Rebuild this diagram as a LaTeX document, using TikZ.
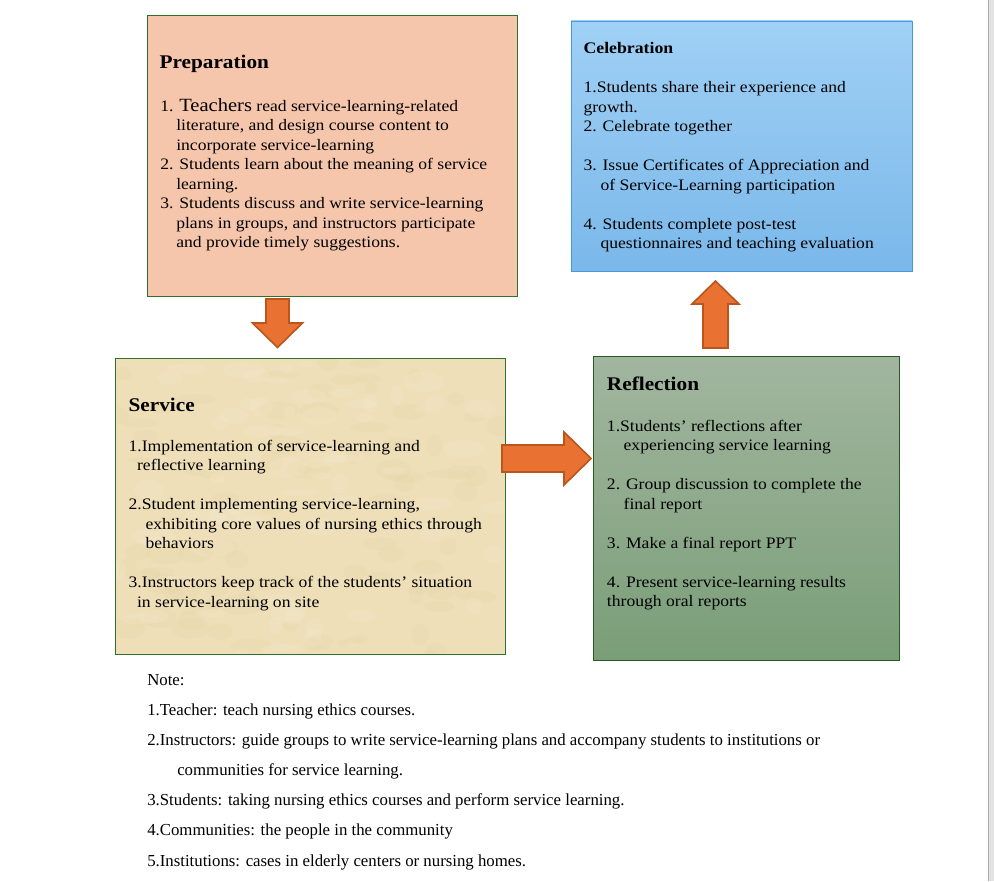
\documentclass[tikz,border=0pt]{standalone}
\usepackage{fontspec}
\setmainfont{Liberation Serif}
\newfontfamily\boxfont[FakeStretch=1.1]{Liberation Serif}
\newfontfamily\notefont{Liberation Serif}
\definecolor{prepfill}{RGB}{246,198,172}
\definecolor{boxgreen}{RGB}{46,112,46}
\definecolor{celtop}{RGB}{160,208,245}
\definecolor{celbot}{RGB}{122,184,234}
\definecolor{celborder}{RGB}{72,152,218}
\definecolor{serfill}{RGB}{238,223,184}
\definecolor{serdark}{RGB}{214,192,140}
\definecolor{serlight}{RGB}{248,238,212}
\definecolor{reftop}{RGB}{162,182,159}
\definecolor{refbot}{RGB}{122,158,120}
\definecolor{refborder}{RGB}{40,90,40}
\definecolor{arrfill}{RGB}{233,113,50}
\definecolor{arrdraw}{RGB}{184,86,30}
\definecolor{scrollgray}{RGB}{227,227,227}
\definecolor{scrollline}{RGB}{170,170,170}
\newcommand\fl{\rule{0pt}{10pt}}
\begin{document}
\begin{tikzpicture}[x=0.75pt,y=-0.75pt,
  box/.style={rectangle, inner sep=0pt, line width=0.65pt},
  blockarrow/.style={fill=arrfill, draw=arrdraw, line width=1.2pt, line join=miter},
  txt/.style={inner sep=0pt, anchor=north west, align=left,
    font=\boxfont\fontsize{12}{14.625}\selectfont},
  ttl/.style={inner sep=0pt, anchor=base west,
    font=\boxfont\bfseries\fontsize{14.5}{16}\selectfont},
  notetxt/.style={inner sep=0pt, anchor=north west, align=left,
    font=\notefont\fontsize{12.6}{22.6}\selectfont}]
\useasboundingbox (0,0) rectangle (994,881);
\fill[white] (0,0) rectangle (994,881);
\fill[scrollgray] (988,0) rectangle (994,881);
\draw[scrollline, line width=0.75pt] (988.5,0) -- (988.5,881);

% boxes
\node[box, draw=boxgreen, fill=prepfill, minimum width=277.5pt, minimum height=210.75pt] (prep) at (332,155.5) {};
\node[box, draw=celborder, top color=celtop, bottom color=celbot, minimum width=255.75pt, minimum height=187.5pt] (cel) at (741.5,146) {};
\node[box, fill=serfill, minimum width=291.75pt, minimum height=221.25pt] (ser) at (310.5,506.5) {};
\begin{scope}
  \clip (116,359) rectangle (505,654);
  \pgfmathsetseed{7}
  \foreach \i in {1,...,90}{
    \pgfmathsetmacro\rx{116+389*rnd}
    \pgfmathsetmacro\ry{359+295*rnd}
    \pgfmathsetmacro\ra{6+16*rnd}
    \pgfmathsetmacro\rb{3+8*rnd}
    \fill[serdark, opacity=0.07] (\rx,\ry) ellipse ({\ra*0.75pt} and {\rb*0.75pt});
  }
  \foreach \i in {1,...,70}{
    \pgfmathsetmacro\rx{116+389*rnd}
    \pgfmathsetmacro\ry{359+295*rnd}
    \pgfmathsetmacro\ra{6+16*rnd}
    \pgfmathsetmacro\rb{3+8*rnd}
    \fill[serlight, opacity=0.18] (\rx,\ry) ellipse ({\ra*0.75pt} and {\rb*0.75pt});
  }
\end{scope}
\draw[boxgreen, line width=0.65pt] (ser.south west) rectangle (ser.north east);
\node[box, draw=refborder, top color=reftop, bottom color=refbot, minimum width=229.5pt, minimum height=228pt] (ref) at (746,508) {};

% block arrows
\draw[blockarrow] (266,299) -- (289,299) -- (289,323) -- (302.5,323) -- (277.5,347.5) -- (252.5,323) -- (266,323) -- cycle;
\draw[blockarrow] (502,445) -- (564,445) -- (564,432) -- (591,458.5) -- (564,485) -- (564,472) -- (502,472) -- cycle;
\draw[blockarrow] (703,348) -- (703,304) -- (692,304) -- (715.5,281) -- (739,304) -- (728,304) -- (728,348) -- cycle;

% titles
\node[ttl] (prepttl) at (159.3,68.3) {Preparation};
\node[ttl, font=\boxfont\bfseries\fontsize{12.1}{14}\selectfont] (celttl) at (583.3,53.3) {Celebration};
\node[ttl] (serttl) at (128.3,411) {Service};
\node[ttl] (refttl) at (606.7,390.7) {Reflection};

% texts
\node[txt] (preptxt) at (160,97.4) {\fl 1. {\fontsize{14}{14.625}\selectfont Teachers} read service-learning-related\\
\hspace*{12pt}literature, and design course content to\\
\hspace*{12pt}incorporate service-learning\\
2. Students learn about the meaning of service\\
\hspace*{12pt}learning.\\
3. Students discuss and write service-learning\\
\hspace*{12pt}plans in groups, and instructors participate\\
\hspace*{12pt}and provide timely suggestions.};

\node[txt] (celtxt) at (583.3,79) {\fl 1.Students share their experience and\\
growth.\\
2. Celebrate together\\[14.625pt]
3. Issue Certificates of Appreciation and\\
\hspace*{12.75pt}of Service-Learning participation\\[14.625pt]
4. Students complete post-test\\
\hspace*{12.75pt}questionnaires and teaching evaluation};

\node[txt] (sertxt) at (128.3,437.7) {\fl 1.Implementation of service-learning and\\
\hspace*{6.4pt}reflective learning\\[14.625pt]
2.Student implementing service-learning,\\
\hspace*{12.75pt}exhibiting core values of nursing ethics through\\
\hspace*{12.75pt}behaviors\\[14.625pt]
3.Instructors keep track of the students’ situation\\
\hspace*{6.4pt}in service-learning on site};

\node[txt] (reftxt) at (606.7,417.7) {\fl 1.Students’ reflections after\\
\hspace*{12.5pt}experiencing service learning\\[14.625pt]
2. Group discussion to complete the\\
\hspace*{12.5pt}final report\\[14.625pt]
3. Make a final report PPT\\[14.625pt]
4. Present service-learning results\\
through oral reports};

% notes
\node[notetxt] (notes) at (147,671.7) {\fl Note:\\
1.Teacher: teach nursing ethics courses.\\
2.Instructors: guide groups to write service-learning plans and accompany students to institutions or\\
\hspace*{22.5pt}communities for service learning.\\
3.Students: taking nursing ethics courses and perform service learning.\\
4.Communities: the people in the community\\
5.Institutions: cases in elderly centers or nursing homes.};
\end{tikzpicture}
\end{document}
